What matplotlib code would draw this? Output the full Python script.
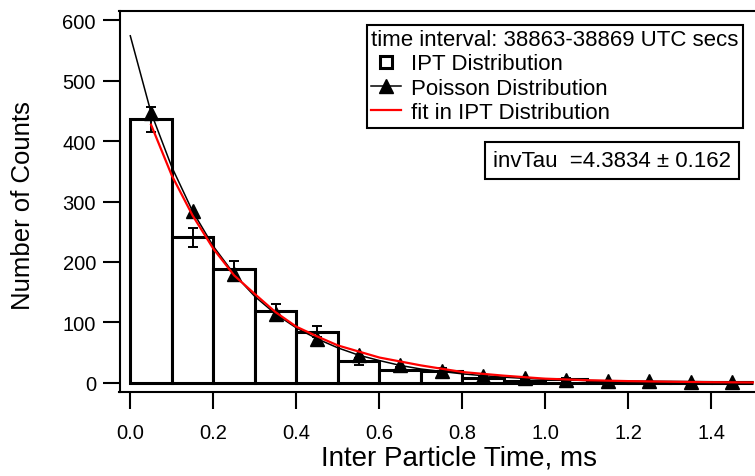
import matplotlib
matplotlib.use("Agg")
import matplotlib.pyplot as plt
from matplotlib.lines import Line2D

plt.rcParams['font.family'] = ['Liberation Sans', 'DejaVu Sans']

# IPT histogram (bin left edges, counts, errors)
bin_left = [0.0, 0.1, 0.2, 0.3, 0.4, 0.5, 0.6, 0.7, 0.8, 0.9, 1.0, 1.1, 1.2, 1.3, 1.4]
ipt_counts = [436, 241, 188, 119, 85, 36, 22, 20, 8, 4, 6, 2, 1, 1, 0]
ipt_err = [21, 15.5, 13.7, 10.9, 9.2, 6, 4.7, 5, 2.8, 2, 2.4, 1.4, 1, 1, 0]

# Poisson distribution at bin centres
bin_centre = [0.05, 0.15, 0.25, 0.35, 0.45, 0.55, 0.65, 0.75, 0.85, 0.95,
              1.05, 1.15, 1.25, 1.35, 1.45]
poisson = [447, 284, 180, 114, 73, 46, 29, 19, 12, 7.5, 5, 3, 3, 2, 2]

# Poisson curve
curve_x = [0.0, 0.05, 0.1, 0.15, 0.2, 0.25, 0.3, 0.35, 0.4, 0.45, 0.5, 0.55,
           0.6, 0.65, 0.7, 0.75, 0.8, 0.85, 0.9, 0.95, 1.0, 1.1, 1.2, 1.3, 1.4, 1.5]
curve_y = [574, 447, 357, 284, 226, 180, 143, 114, 91, 73, 58, 46,
           37, 29, 23, 19, 15, 12, 9.5, 7.5, 6, 4, 3, 2.5, 2, 2]

# exponential fit in IPT distribution
fit_x = [0.05, 0.1, 0.15, 0.2, 0.25, 0.3, 0.35, 0.4, 0.45, 0.5, 0.6, 0.7,
         0.8, 0.9, 1.0, 1.1, 1.2, 1.3, 1.4, 1.5]
fit_y = [427, 343, 277, 222, 178, 147, 117, 93, 77, 62, 42, 29,
         18, 12, 7, 4.5, 3, 2, 1.2, 0.8]

fig = plt.figure(figsize=(7.55, 4.77), dpi=100)
ax = fig.add_axes([119.5 / 755, 84 / 477, 635.5 / 755, 381 / 477])

ax.bar(bin_left, ipt_counts, width=0.1, align='edge', facecolor='white',
       edgecolor='black', linewidth=2.2, zorder=2)
ax.errorbar(bin_centre, ipt_counts, yerr=ipt_err, fmt='none', ecolor='black',
            elinewidth=1.4, capsize=3.6, capthick=1.4, zorder=3)
ax.plot(curve_x, curve_y, color='black', linewidth=1.1, zorder=4)
ax.plot(bin_centre, poisson, linestyle='none', marker='^', color='black',
        markersize=10, zorder=4)
ax.plot(fit_x, fit_y, color='red', linewidth=1.6, zorder=5)

ax.set_xlim(-0.026, 1.505)
ax.set_ylim(-15, 615)
ax.set_xticks([0.0, 0.2, 0.4, 0.6, 0.8, 1.0, 1.2, 1.4])
ax.set_xticklabels(['0.0', '0.2', '0.4', '0.6', '0.8', '1.0', '1.2', '1.4'])
ax.set_yticks([0, 100, 200, 300, 400, 500, 600])

ax.spines['right'].set_visible(False)
for s in ['left', 'top', 'bottom']:
    ax.spines[s].set_linewidth(1.5)
ax.tick_params(axis='both', direction='out', length=12, width=1.5,
               labelsize=14.5)
ax.tick_params(axis='x', pad=10)
ax.tick_params(axis='y', pad=5)

ax.set_xlabel('Inter Particle Time, ms', fontsize=20)
ax.xaxis.set_label_coords(0.535, -0.138)
ax.set_ylabel('Number of Counts', fontsize=18.5)
ax.yaxis.set_label_coords(-0.133, 0.493)

handles = [
    Line2D([], [], linestyle='none', marker='s', markersize=9,
           markerfacecolor='white', markeredgecolor='black', markeredgewidth=2.2),
    Line2D([], [], color='black', linewidth=1.1, marker='^', markersize=10),
    Line2D([], [], color='red', linewidth=1.6),
]
labels = ['IPT Distribution', 'Poisson Distribution', 'fit in IPT Distribution']
leg = ax.legend(handles, labels, title='time interval: 38863-38869 UTC secs',
                loc='upper right', bbox_to_anchor=(0.981, 0.964),
                borderaxespad=0, fontsize=16, title_fontsize=16,
                frameon=True, fancybox=False, edgecolor='black',
                framealpha=1, handlelength=1.35, handletextpad=0.45,
                labelspacing=0.15, borderpad=0.2)
leg.get_frame().set_linewidth(1.5)
leg._legend_box.align = 'left'

ax.text(0.962, 0.607, 'invTau  =4.3834 \u00b1 0.162', transform=ax.transAxes,
        ha='right', va='center', fontsize=16,
        bbox=dict(boxstyle='square,pad=0.35', facecolor='white',
                  edgecolor='black', linewidth=1.5))

plt.savefig('out.png', dpi=100)
